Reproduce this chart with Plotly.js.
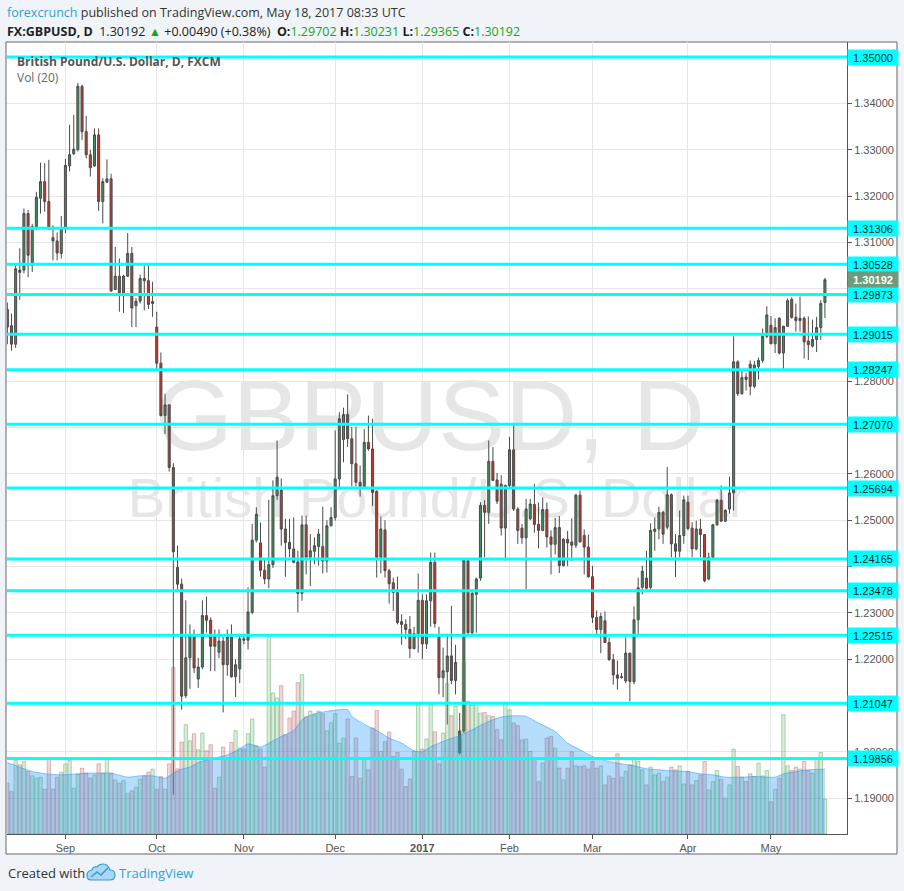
<!DOCTYPE html>
<html><head><meta charset="utf-8">
<script src="https://cdn.plot.ly/plotly-3.0.1.min.js"></script>
<style>html,body{margin:0;padding:0;background:#f0f3f7;}#chart{width:904px;height:891px;}</style>
</head><body><div id="chart"></div>
<script>
const dates = [
'2016-08-12','2016-08-15','2016-08-16','2016-08-17','2016-08-18','2016-08-19','2016-08-22','2016-08-23','2016-08-24','2016-08-25','2016-08-26','2016-08-29','2016-08-30','2016-08-31',
'2016-09-01','2016-09-02','2016-09-05','2016-09-06','2016-09-07','2016-09-08','2016-09-09','2016-09-12','2016-09-13','2016-09-14','2016-09-15','2016-09-16','2016-09-19','2016-09-20','2016-09-21','2016-09-22','2016-09-23','2016-09-26','2016-09-27','2016-09-28','2016-09-29','2016-09-30',
'2016-10-03','2016-10-04','2016-10-05','2016-10-06','2016-10-07','2016-10-10','2016-10-11','2016-10-12','2016-10-13','2016-10-14','2016-10-17','2016-10-18','2016-10-19','2016-10-20','2016-10-21','2016-10-24','2016-10-25','2016-10-26','2016-10-27','2016-10-28','2016-10-31',
'2016-11-01','2016-11-02','2016-11-03','2016-11-04','2016-11-07','2016-11-08','2016-11-09','2016-11-10','2016-11-11','2016-11-14','2016-11-15','2016-11-16','2016-11-17','2016-11-18','2016-11-21','2016-11-22','2016-11-23','2016-11-24','2016-11-25','2016-11-28','2016-11-29','2016-11-30',
'2016-12-01','2016-12-02','2016-12-05','2016-12-06','2016-12-07','2016-12-08','2016-12-09','2016-12-12','2016-12-13','2016-12-14','2016-12-15','2016-12-16','2016-12-19','2016-12-20','2016-12-21','2016-12-22','2016-12-23','2016-12-27','2016-12-28','2016-12-29','2016-12-30',
'2017-01-03','2017-01-04','2017-01-05','2017-01-06','2017-01-09','2017-01-10','2017-01-11','2017-01-12','2017-01-13','2017-01-16','2017-01-17','2017-01-18','2017-01-19','2017-01-20','2017-01-23','2017-01-24','2017-01-25','2017-01-26','2017-01-27','2017-01-30','2017-01-31',
'2017-02-01','2017-02-02','2017-02-03','2017-02-06','2017-02-07','2017-02-08','2017-02-09','2017-02-10','2017-02-13','2017-02-14','2017-02-15','2017-02-16','2017-02-17','2017-02-20','2017-02-21','2017-02-22','2017-02-23','2017-02-24','2017-02-27','2017-02-28',
'2017-03-01','2017-03-02','2017-03-03','2017-03-06','2017-03-07','2017-03-08','2017-03-09','2017-03-10','2017-03-13','2017-03-14','2017-03-15','2017-03-16','2017-03-17','2017-03-20','2017-03-21','2017-03-22','2017-03-23','2017-03-24','2017-03-27','2017-03-28','2017-03-29','2017-03-30','2017-03-31',
'2017-04-03','2017-04-04','2017-04-05','2017-04-06','2017-04-07','2017-04-10','2017-04-11','2017-04-12','2017-04-13','2017-04-14','2017-04-17','2017-04-18','2017-04-19','2017-04-20','2017-04-21','2017-04-24','2017-04-25','2017-04-26','2017-04-27','2017-04-28',
'2017-05-01','2017-05-02','2017-05-03','2017-05-04','2017-05-05','2017-05-08','2017-05-09','2017-05-10','2017-05-11','2017-05-12','2017-05-15','2017-05-16','2017-05-17','2017-05-18'
];
const open = [
1.2955,1.2920,1.2880,1.3040,1.3040,1.3162,1.3051,1.3130,1.3195,1.3231,1.3188,1.3110,1.3103,1.3076,
1.3130,1.3265,1.3291,1.3300,1.3437,1.3339,1.3289,1.3265,1.3332,1.3188,1.3230,1.3237,1.2998,1.3027,1.2990,1.3027,1.3076,1.2963,1.2973,1.3022,1.3017,1.2968,
1.2917,1.2839,1.2726,1.2749,1.2614,1.2398,1.2362,1.2121,1.2203,1.2251,1.2157,1.2183,1.2294,1.2284,1.2251,1.2215,1.2239,1.2188,1.2248,1.2162,1.2179,
1.2244,1.2241,1.2301,1.2457,1.2451,1.2392,1.2373,1.2404,1.2553,1.2565,1.2481,1.2452,1.2438,1.2410,1.2342,1.2490,1.2420,1.2433,1.2443,1.2443,1.2412,1.2488,
1.2506,1.2589,1.2674,1.2728,1.2676,1.2622,1.2582,1.2573,1.2668,1.2654,1.2562,1.2420,1.2479,1.2391,1.2365,1.2344,1.2281,1.2275,1.2264,1.2223,1.2255,
1.2327,1.2233,1.2326,1.2409,1.2248,1.2160,1.2173,1.2207,1.2154,1.1998,1.2045,1.2413,1.2257,1.2340,1.2375,1.2532,1.2517,1.2627,1.2587,1.2578,1.2483,
1.2575,1.2652,1.2524,1.2483,1.2462,1.2503,1.2534,1.2491,1.2478,1.2523,1.2464,1.2448,1.2484,1.2402,1.2459,1.2453,1.2446,1.2554,1.2467,1.2442,
1.2378,1.2290,1.2264,1.2283,1.2236,1.2199,1.2166,1.2162,1.2153,1.2213,1.2151,1.2285,1.2355,1.2375,1.2355,1.2476,1.2481,1.2517,1.2485,1.2555,1.2449,1.2433,1.2467,
1.2539,1.2483,1.2438,1.2481,1.2469,1.2373,1.2420,1.2490,1.2543,1.2498,1.2524,1.2559,1.2842,1.2773,1.2809,1.2837,1.2789,1.2832,1.2845,1.2897,
1.2921,1.2881,1.2936,1.2861,1.2919,1.2977,1.2938,1.2931,1.2936,1.2887,1.2876,1.2890,1.2916,1.29702
];
const high = [
1.2970,1.2946,1.3050,1.3087,1.3173,1.3170,1.3140,1.3209,1.3272,1.3271,1.3278,1.3137,1.3121,1.3157,
1.3280,1.3354,1.3375,1.3444,1.3440,1.3373,1.3300,1.3346,1.3346,1.3238,1.3279,1.3248,1.3090,1.3065,1.3030,1.3120,1.3090,1.2980,1.3030,1.3050,1.3050,1.3015,
1.2950,1.2862,1.2773,1.2750,1.2623,1.2445,1.2374,1.2327,1.2275,1.2264,1.2203,1.2327,1.2335,1.2290,1.2264,1.2264,1.2248,1.2264,1.2275,1.2200,1.2255,
1.2252,1.2355,1.2492,1.2528,1.2495,1.2416,1.2544,1.2586,1.2672,1.2590,1.2503,1.2503,1.2506,1.2434,1.2510,1.2510,1.2470,1.2463,1.2481,1.2529,1.2500,1.2528,
1.2694,1.2733,1.2743,1.2772,1.2701,1.2702,1.2618,1.2697,1.2726,1.2719,1.2565,1.2508,1.2500,1.2395,1.2376,1.2378,1.2297,1.2286,1.2293,1.2270,1.2385,
1.2340,1.2340,1.2430,1.2430,1.2270,1.2225,1.2254,1.2315,1.2231,1.2084,1.2416,1.2415,1.2351,1.2376,1.2539,1.2543,1.2672,1.2658,1.2602,1.2597,1.2577,
1.2680,1.2705,1.2528,1.2492,1.2546,1.2546,1.2578,1.2538,1.2549,1.2538,1.2478,1.2505,1.2509,1.2461,1.2477,1.2504,1.2557,1.2564,1.2480,1.2469,
1.2401,1.2305,1.2300,1.2303,1.2247,1.2211,1.2197,1.2170,1.2247,1.2214,1.2314,1.2376,1.2402,1.2434,1.2493,1.2506,1.2529,1.2520,1.2615,1.2558,1.2470,1.2521,1.2553,
1.2553,1.2496,1.2499,1.2503,1.2470,1.2430,1.2492,1.2546,1.2575,1.2524,1.2594,1.2897,1.2845,1.2822,1.2818,1.2845,1.2844,1.2851,1.2914,1.2962,
1.2941,1.2936,1.2938,1.2919,1.2979,1.2981,1.2968,1.2983,1.2940,1.2940,1.2933,1.2939,1.2975,1.30231
];
const low = [
1.2880,1.2866,1.2872,1.2976,1.3033,1.3025,1.3036,1.3126,1.3162,1.3166,1.3126,1.3061,1.3061,1.3065,
1.3120,1.3253,1.3289,1.3296,1.3321,1.3281,1.3242,1.3263,1.3168,1.3141,1.3228,1.2993,1.2997,1.2950,1.2947,1.3025,1.2917,1.2917,1.2968,1.2953,1.2956,1.2939,
1.2823,1.2724,1.2686,1.2605,1.1907,1.2347,1.2091,1.2116,1.2136,1.2170,1.2138,1.2178,1.2257,1.2174,1.2174,1.2202,1.2085,1.2164,1.2160,1.2118,1.2148,
1.2232,1.2221,1.2297,1.2452,1.2378,1.2362,1.2353,1.2397,1.2544,1.2445,1.2378,1.2420,1.2407,1.2301,1.2326,1.2383,1.2358,1.2405,1.2402,1.2385,1.2387,1.2487,
1.2499,1.2568,1.2625,1.2658,1.2573,1.2573,1.2551,1.2570,1.2650,1.2531,1.2376,1.2385,1.2376,1.2320,1.2304,1.2275,1.2231,1.2243,1.2202,1.2221,1.2214,
1.2200,1.2222,1.2270,1.2268,1.2124,1.2118,1.2059,1.2146,1.2124,1.1994,1.2040,1.2255,1.2253,1.2257,1.2369,1.2420,1.2492,1.2585,1.2535,1.2467,1.2413,
1.2570,1.2520,1.2449,1.2449,1.2351,1.2500,1.2473,1.2439,1.2476,1.2441,1.2383,1.2426,1.2386,1.2400,1.2401,1.2412,1.2440,1.2452,1.2383,1.2376,
1.2278,1.2253,1.2213,1.2235,1.2196,1.2145,1.2134,1.2158,1.2148,1.2109,1.2146,1.2253,1.2340,1.2350,1.2350,1.2434,1.2459,1.2449,1.2480,1.2420,1.2377,1.2420,1.2449,
1.2478,1.2420,1.2435,1.2420,1.2366,1.2370,1.2416,1.2488,1.2496,1.2496,1.2514,1.2521,1.2768,1.2771,1.2780,1.2770,1.2785,1.2804,1.2840,1.2893,
1.2880,1.2861,1.2858,1.2827,1.2917,1.2935,1.2907,1.2907,1.2849,1.2846,1.2873,1.2863,1.2889,1.29365
];
const close = [
1.2917,1.2880,1.3043,1.3035,1.3162,1.3072,1.3134,1.3197,1.3231,1.3188,1.3130,1.3103,1.3077,1.3130,
1.3266,1.3289,1.3301,1.3437,1.3339,1.3289,1.3261,1.3332,1.3188,1.3231,1.3237,1.2995,1.3027,1.2991,1.3027,1.3076,1.2958,1.2973,1.3022,1.3017,1.2966,1.2972,
1.2839,1.2726,1.2749,1.2614,1.2432,1.2362,1.2120,1.2203,1.2251,1.2181,1.2183,1.2294,1.2284,1.2228,1.2228,1.2239,1.2188,1.2248,1.2162,1.2188,1.2244,
1.2241,1.2302,1.2457,1.2513,1.2392,1.2373,1.2404,1.2553,1.2593,1.2481,1.2452,1.2438,1.2409,1.2342,1.2490,1.2420,1.2434,1.2445,1.2470,1.2412,1.2488,1.2506,
1.2589,1.2719,1.2728,1.2676,1.2622,1.2582,1.2573,1.2668,1.2654,1.2560,1.2420,1.2481,1.2391,1.2363,1.2344,1.2279,1.2275,1.2264,1.2223,1.2255,1.2327,
1.2233,1.2326,1.2409,1.2277,1.2160,1.2175,1.2207,1.2154,1.2193,1.2045,1.2413,1.2257,1.2342,1.2373,1.2532,1.2517,1.2627,1.2586,1.2541,1.2483,1.2575,
1.2652,1.2524,1.2478,1.2462,1.2524,1.2535,1.2491,1.2478,1.2523,1.2464,1.2448,1.2484,1.2402,1.2459,1.2451,1.2446,1.2554,1.2453,1.2442,1.2378,
1.2290,1.2264,1.2292,1.2236,1.2199,1.2166,1.2159,1.2161,1.2213,1.2152,1.2285,1.2354,1.2390,1.2353,1.2478,1.2481,1.2517,1.2470,1.2555,1.2449,1.2433,1.2467,1.2544,
1.2482,1.2438,1.2481,1.2469,1.2369,1.2420,1.2490,1.2543,1.2498,1.2521,1.2559,1.2842,1.2773,1.2808,1.2804,1.2789,1.2835,1.2845,1.2897,1.2943,
1.2881,1.2916,1.2861,1.2919,1.2974,1.2938,1.2931,1.2936,1.2885,1.2879,1.2890,1.2916,1.2968,1.30192
];
const volume = [
50.7,42.3,73.3,69,72.3,62.3,58,55.7,56.7,44.7,75.7,44.7,56.7,61.7,
70,73.3,45.7,59.7,65.7,60.7,55.7,58.7,70,60.7,75.7,60.7,54,50.7,53.3,40.7,43,46.7,54.7,58,61.7,64.7,
44.7,57.3,44.7,70,166,65,91.7,109,93,100,84,100.7,83,89,45.7,56.7,86.7,75.7,91.3,103,85.7,
84.7,100,114.7,88,84.7,66.7,196,140.7,135.7,148,99,115.7,122.7,151,159,117,122.7,119,122.7,120,103,111,
120,90.7,95.7,114.7,57.3,95.7,55.7,75.7,64,105.7,123.3,82.3,92.3,101.7,77.3,81.3,64.7,47.3,54.7,82.3,129,
84.7,94.7,130.7,102,70,100.7,150,118,127.3,95.7,171,132.3,128.3,130.7,120.7,121.3,118,117.3,104,94,130.7,
124,110.7,108,94,94.7,82.3,75.7,52.3,70.7,95.7,97.3,85.7,65.7,54,65.7,82,68,67.3,68,64.7,
72.3,65.7,68,49,58,55.7,80,56.7,62.3,69,74,72.3,64,49,66.7,59,60.7,52.3,56.7,66.7,64,68,50,
62.3,49,53.3,59,72.3,44,52.3,63.3,54.7,35.7,49,84.7,67.3,56.7,52.3,60,57.3,70.7,58,63.3,
32.3,44.7,55.7,119,68,63.3,66.7,64.7,72.3,63.3,60.7,75.7,81.3,34.7
];
const volMADates = ['2016-08-12','2016-08-17','2016-08-22','2016-08-26','2016-08-31','2016-09-05','2016-09-08','2016-09-13','2016-09-16','2016-09-22','2016-09-27','2016-09-30','2016-10-05','2016-10-07','2016-10-11','2016-10-13','2016-10-17','2016-10-21','2016-10-26','2016-10-31','2016-11-02','2016-11-07','2016-11-09','2016-11-14','2016-11-17','2016-11-21','2016-11-24','2016-11-29','2016-12-06','2016-12-07','2016-12-13','2016-12-15','2016-12-20','2016-12-23','2016-12-29','2017-01-03','2017-01-05','2017-01-11','2017-01-16','2017-01-19','2017-01-25','2017-01-30','2017-02-02','2017-02-07','2017-02-10','2017-02-16','2017-02-21','2017-02-24','2017-03-01','2017-03-07','2017-03-10','2017-03-15','2017-03-20','2017-03-23','2017-03-28','2017-04-03','2017-04-06','2017-04-11','2017-04-14','2017-04-20','2017-04-25','2017-04-28','2017-05-02','2017-05-04','2017-05-09','2017-05-12','2017-05-18'];
const volMA = [71.3,66.7,62.3,59.7,59,59.7,60.7,60.7,60.7,56.7,58,58,55.7,60.7,64.7,66.7,71.3,75.7,79,84.7,90,86.7,90.7,97.3,103.3,114,120,122.3,124,117.3,107.3,103.3,95.7,90.7,83,82,87,94,98,104,112.3,116.7,118,117.3,110.7,102.3,90.7,84,77.3,72.3,70,68,65,64,63,62.3,60,59,56.7,56.7,57.3,56.7,56.7,60,62.3,64,64.7];
const levels = [1.35000,1.31306,1.30528,1.29873,1.29015,1.28247,1.27070,1.25694,1.24165,1.23478,1.22515,1.21047,1.19856];
const lastPrice = 1.30192;
const monthTickDates = ['2016-09-01','2016-10-03','2016-11-01','2016-12-01','2017-01-03','2017-02-01','2017-03-01','2017-04-03','2017-05-01'];
const monthTickLabels = ['Sep','Oct','Nov','Dec','<b>2017</b>','Feb','Mar','Apr','May'];
const priceTickVals = [1.19,1.20,1.21,1.22,1.23,1.24,1.25,1.26,1.27,1.28,1.29,1.30,1.31,1.32,1.33,1.34,1.35];
const priceTickLabels = ['1.19000','1.20000','','1.22000','1.23000','','1.25000','1.26000','','1.28000','','','1.31000','1.32000','1.33000','1.34000',''];

// pixel helpers for layout placement
const PL=7, PR=847, PT=42, PB=834;
const px = x => (x-PL)/(PR-PL);
const py = y => (PB-y)/(PB-PT);

const volColors = close.map((c,i)=> c>=open[i] ? 'rgba(76,175,80,0.22)' : 'rgba(200,110,110,0.28)');
const volLines = close.map((c,i)=> c>=open[i] ? 'rgba(56,142,60,0.35)' : 'rgba(170,80,80,0.35)');

const traces = [
  {type:'candlestick', x:dates, open:open, high:high, low:low, close:close, xaxis:'x', yaxis:'y',
   increasing:{line:{color:'#4a4a4a', width:1}, fillcolor:'#3f8f5f'},
   decreasing:{line:{color:'#4a4a4a', width:1}, fillcolor:'#c0392b'},
   hoverinfo:'skip', showlegend:false},
  {type:'bar', x:dates, y:volume, xaxis:'x', yaxis:'y2',
   marker:{color:volColors, line:{color:volLines, width:1}}, hoverinfo:'skip', showlegend:false},
  {type:'scatter', mode:'lines', x:volMADates, y:volMA, xaxis:'x', yaxis:'y2', fill:'tozeroy',
   fillcolor:'rgba(33,150,243,0.33)', line:{color:'rgba(33,150,243,0.5)', width:1, shape:'spline', smoothing:0.6},
   hoverinfo:'skip', showlegend:false}
];

const F = 'Liberation Sans, Arial, sans-serif';
const HF = 'Open Sans, Liberation Sans, sans-serif';
const shapes = [
  {type:'rect', xref:'paper', yref:'paper', x0:px(6), x1:px(897), y0:py(854), y1:py(42), fillcolor:'#ffffff', line:{color:'#666', width:1}, layer:'below'},
  {type:'rect', xref:'paper', yref:'paper', x0:px(150), x1:px(710), y0:py(453), y1:py(358), line:{width:0}, fillcolor:'rgba(0,0,0,0)', layer:'below',
   label:{text:'GBPUSD, D', textposition:'middle center', font:{family:F, size:100, color:'#e6e6e6'}}},
  {type:'rect', xref:'paper', yref:'paper', x0:px(120), x1:px(755), y0:py(520), y1:py(465), line:{width:0}, fillcolor:'rgba(0,0,0,0)', layer:'below',
   label:{text:'British Pound/U.S. Dollar', textposition:'middle center', font:{family:F, size:56, color:'#e6e6e6'}}}
];
levels.forEach(v => shapes.push({type:'line', xref:'paper', yref:'y', x0:0, x1:1, y0:v, y1:v, line:{color:'#00ffff', width:3}, layer:'above'}));
function P(x,y){return px(x).toFixed(5)+','+py(y).toFixed(5);}
shapes.push({type:'path', xref:'paper', yref:'paper', layer:'above',
  path:'M'+P(91,880)+' L'+P(110,880)+' Q'+P(115,880)+' '+P(115,875)+' Q'+P(115,870)+' '+P(110,870)+' Q'+P(108,864)+' '+P(103,864)+' Q'+P(99,864)+' '+P(97,867)+' Q'+P(93,866)+' '+P(92,870)+' Q'+P(87,871)+' '+P(87,875)+' Q'+P(87,880)+' '+P(91,880)+' Z',
  fillcolor:'#a8d8f5', line:{color:'#3d9ad1', width:1.2}});
shapes.push({type:'path', xref:'paper', yref:'paper', layer:'above',
  path:'M'+P(91,877)+' L'+P(97,872)+' L'+P(101,875)+' L'+P(108,868),
  line:{color:'#3d9ad1', width:1.5}});

const annotations = [
  {xref:'paper', yref:'paper', x:px(5), y:py(12), xanchor:'left', yanchor:'middle', showarrow:false,
   text:"<span style='color:#2f9fd8'>forexcrunch</span> published on TradingView.com, May 18, 2017 08:33 UTC",
   font:{family:HF, size:12.5, color:'#333'}},
  {xref:'paper', yref:'paper', x:px(5), y:py(31), xanchor:'left', yanchor:'middle', showarrow:false,
   text:"<b>FX:GBPUSD, D</b>  1.30192 <span style='color:#19a31f'>▲</span> +0.00490 (+0.38%)  <b>O:</b><span style='color:#19a31f'>1.29702</span> <b>H:</b><span style='color:#19a31f'>1.30231</span> <b>L:</b><span style='color:#19a31f'>1.29365</span> <b>C:</b><span style='color:#19a31f'>1.30192</span>",
   font:{family:HF, size:12.5, color:'#222'}},
  {xref:'paper', yref:'paper', x:px(15), y:py(61), xanchor:'left', yanchor:'middle', showarrow:false,
   text:'<b>British Pound/U.S. Dollar, D, FXCM</b>', font:{family:HF, size:12, color:'#555'}},
  {xref:'paper', yref:'paper', x:px(15), y:py(78), xanchor:'left', yanchor:'middle', showarrow:false,
   text:'Vol (20)', font:{family:HF, size:12, color:'#666'}},
  {xref:'paper', yref:'paper', x:px(6), y:py(873), xanchor:'left', yanchor:'middle', showarrow:false,
   text:'Created with', font:{family:HF, size:13, color:'#333'}},
  {xref:'paper', yref:'paper', x:px(117), y:py(873), xanchor:'left', yanchor:'middle', showarrow:false,
   text:'TradingView', font:{family:HF, size:13, color:'#2f9fd8'}}
];
levels.forEach(v => annotations.push({xref:'paper', yref:'y', x:1, y:v, xanchor:'left', yanchor:'middle', showarrow:false,
  text:v.toFixed(5), bgcolor:'#00ffff', width:48, height:13, borderpad:1, align:'center',
  font:{family:F, size:11, color:'#1e1e1e'}}));
annotations.push({xref:'paper', yref:'y', x:1, y:lastPrice, xanchor:'left', yanchor:'middle', showarrow:false,
  text:'<b>'+lastPrice.toFixed(5)+'</b>', bgcolor:'#6e9b7b', width:48, height:13, borderpad:1, align:'center',
  font:{family:F, size:11, color:'#ffffff'}});

const layout = {
  width:904, height:891,
  margin:{l:PL, r:904-PR, t:PT, b:891-PB, pad:0},
  paper_bgcolor:'#f0f3f7', plot_bgcolor:'#ffffff',
  showlegend:false, hovermode:false, bargap:0.18,
  xaxis:{type:'category', range:[-0.08, 202.32], rangeslider:{visible:false},
    tickmode:'array', tickvals:monthTickDates, ticktext:monthTickLabels,
    showgrid:true, gridcolor:'#e6e6e6', gridwidth:1, ticks:'outside', ticklen:4, tickcolor:'#555',
    showline:true, linecolor:'#555', linewidth:1, tickfont:{family:F, size:11, color:'#555'}, fixedrange:true},
  yaxis:{side:'right', range:[1.18225, 1.35325], tickmode:'array', tickvals:priceTickVals, ticktext:priceTickLabels,
    showgrid:true, gridcolor:'#e6e6e6', ticks:'outside', ticklen:4, tickcolor:'#555',
    showline:true, linecolor:'#555', linewidth:1, zeroline:false, tickfont:{family:F, size:11, color:'#555'}, fixedrange:true},
  yaxis2:{overlaying:'y', range:[0, 790], visible:false, showgrid:false, zeroline:false, fixedrange:true},
  shapes:shapes, annotations:annotations
};
Plotly.newPlot('chart', traces, layout, {staticPlot:true, displayModeBar:false});
</script></body></html>
